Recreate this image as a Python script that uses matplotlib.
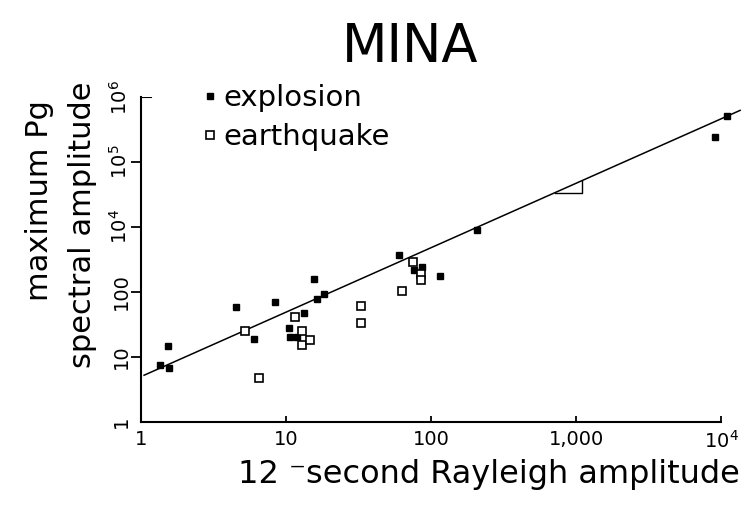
import matplotlib
matplotlib.use("Agg")
import matplotlib.pyplot as plt

# explosions (filled squares) - x: 12 s Rayleigh amplitude, y: Pg spectral amplitude
exp_x = [1.53, 1.35, 1.56, 4.52, 6.01, 8.36, 10.5, 10.7, 11.9, 13.2,
         15.7, 16.4, 18.2, 60.4, 76.4, 86.7, 115, 207, 10940, 9100]
exp_y = [14.7, 7.5, 6.7, 59, 18.8, 69, 27.8, 20, 20.2, 46.8,
         158, 78.5, 91.8, 371, 217, 244, 176, 889, 51900, 24600]

# earthquakes (open squares)
eq_x = [5.21, 6.55, 11.5, 12.9, 12.9, 14.7, 33.0, 32.7, 75.5, 84.7, 84.7, 63.4]
eq_y = [25.2, 4.67, 40.6, 25.2, 15.0, 18.2, 60.7, 33.2, 292, 189, 152, 104]

# fitted line end points and the little slope triangle
fit_x = [1.05, 13500]
fit_y = [5.2, 62700]
tri_x = [716, 1100, 1100]
tri_y = [3390, 3390, 5190]

xticks = [1, 10, 100, 1000, 10000]
xticklabels = ["1", "10", "100", "1,000", "10$^4$"]
yticks = [1, 10, 100, 1000, 10000, 100000]
yticklabels = ["1", "10", "100", "10$^4$", "10$^5$", "10$^6$"]

plt.rcParams["font.family"] = ["DejaVu Sans"]

W, H = 747, 507
fig = plt.figure(figsize=(W / 100, H / 100), dpi=100)
ax = fig.add_axes([141 / W, 1 - 421.7 / H, (743 - 141) / W, (421.7 - 97.2) / H])

ax.plot(fit_x, fit_y, color="black", lw=1.1)
ax.plot(tri_x, tri_y, color="black", lw=1.0)
ax.plot(exp_x, exp_y, "s", color="black", ms=4.8, ls="none", label="explosion")
ax.plot(eq_x, eq_y, "s", mfc="white", mec="black", mew=1.2, ms=5.2, ls="none",
        label="earthquake")

ax.set_xscale("log")
ax.set_yscale("log")
ax.set_xlim(1, 10 ** 4.15)
ax.set_ylim(1, 1e5)
ax.minorticks_off()

for s in ["top", "right"]:
    ax.spines[s].set_visible(False)
ax.spines["bottom"].set_bounds(1, 1e4)
ax.spines["left"].set_linewidth(1.5)
ax.spines["bottom"].set_linewidth(1.5)

ax.set_xticks(xticks, xticklabels, fontsize=14)
ax.set_yticks(yticks, yticklabels, fontsize=14, rotation=90, va="center")
ax.tick_params(axis="x", direction="in", length=4, width=1.3, pad=6)
ax.tick_params(axis="y", direction="out", length=7, width=1.3, pad=0.5)
ax.xaxis.get_major_ticks()[0].tick1line.set_visible(False)
ax.yaxis.get_major_ticks()[0].tick1line.set_visible(False)
ax.yaxis.get_major_ticks()[-1].tick1line.set_visible(False)
ax.axhline(1e5, xmin=0, xmax=10 / 602, color="black", lw=1.5)

ax.legend(loc="upper left", bbox_to_anchor=(204 / W, 1 - 84 / H),
          bbox_transform=fig.transFigure, frameon=False, fontsize=21,
          handlelength=0.4, handletextpad=0.25, borderpad=0, borderaxespad=0,
          labelspacing=0.38, markerscale=1.0)

fig.text(410 / W, 1 - 62 / H, "MINA", fontsize=38, ha="center", va="baseline")
fig.text(489 / W, 1 - 483 / H, "12 \u207bsecond Rayleigh amplitude", fontsize=23,
         ha="center", va="baseline")
fig.text(40 / W, 1 - 201 / H, "maximum Pg", fontsize=22, rotation=90,
         ha="center", va="center")
fig.text(83 / W, 1 - 225 / H, "spectral amplitude", fontsize=22, rotation=90,
         ha="center", va="center")

fig.savefig("out.png", dpi=100)
